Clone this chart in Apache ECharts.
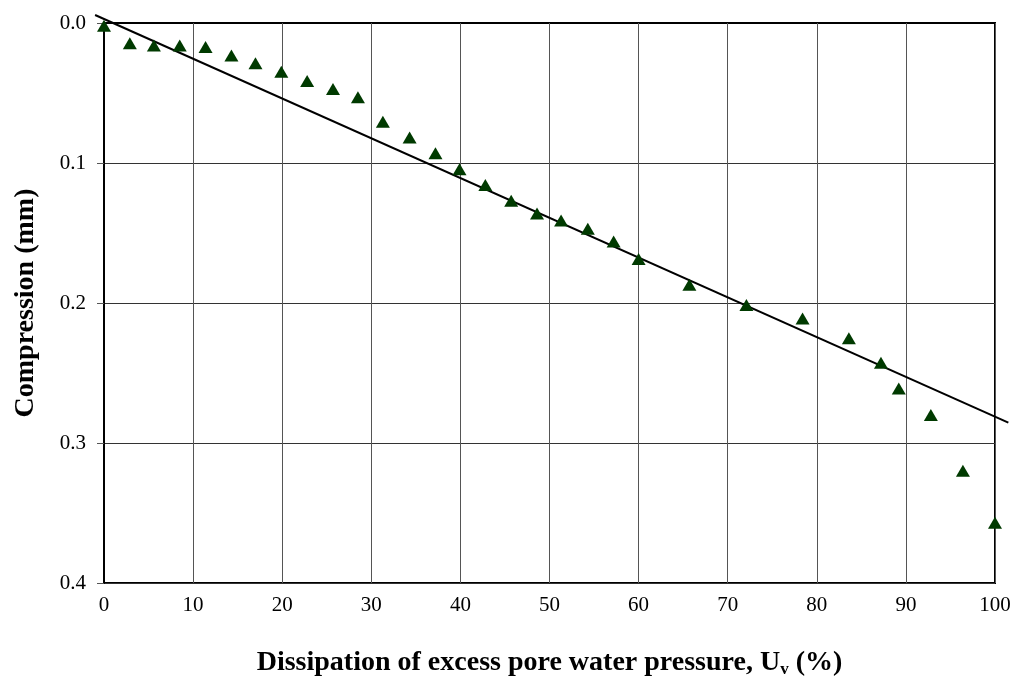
<!DOCTYPE html>
<html>
<head>
<meta charset="utf-8">
<script src="https://cdn.jsdelivr.net/npm/echarts@6/dist/echarts.min.js"></script>
<style>
  html, body { margin: 0; padding: 0; background: #fff; }
  #chart { width: 1016px; height: 690px; }
</style>
</head>
<body>
<div id="chart"></div>
<script>
// measured points: dissipation Uv (%) and compression (mm)
const uv = [0, 2.9, 5.6, 8.5, 11.4, 14.3, 17.0, 19.9, 22.8, 25.7, 28.5, 31.3, 34.3, 37.2, 39.9,
  42.8, 45.7, 48.6, 51.3, 54.3, 57.2, 60.0, 65.7, 72.1, 78.4, 83.6, 87.2, 89.2, 92.8, 96.4, 100];
const compression = [0.002, 0.0145, 0.016, 0.016, 0.0172, 0.0233, 0.0288, 0.0348, 0.0414, 0.0471, 0.0531,
  0.0705, 0.0817, 0.0931, 0.1045, 0.1157, 0.127, 0.136, 0.141, 0.147, 0.156, 0.1686,
  0.187, 0.2014, 0.211, 0.2252, 0.2426, 0.261, 0.280, 0.3198, 0.357];
// straight trend line, end points (runs a bit past the axes)
const trendUv = [-1.0, 101.5];
const trendComp = [-0.0057, 0.2855];

const xTicks = [0, 10, 20, 30, 40, 50, 60, 70, 80, 90, 100];
const yTicks = [0.0, 0.1, 0.2, 0.3, 0.4];

const chart = echarts.init(document.getElementById('chart'));

const serif = '"Liberation Serif", "DejaVu Serif", serif';

chart.setOption({
  animation: false,
  backgroundColor: '#fff',
  grid: {
    left: 104,
    right: 21,
    top: 23,
    bottom: 107,
    containLabel: false,
    outerBoundsMode: 'none',
    show: true,
    borderColor: '#000',
    borderWidth: 2,
    backgroundColor: 'transparent'
  },
  xAxis: {
    type: 'value',
    min: xTicks[0],
    max: xTicks[xTicks.length - 1],
    interval: 10,
    name: 'Dissipation of excess pore water pressure, U{sub|v} (%)',
    nameLocation: 'middle',
    nameGap: 64,
    nameTextStyle: {
      fontFamily: serif,
      fontWeight: 'bold',
      fontSize: 28,
      color: '#000',
      rich: {
        sub: {
          fontFamily: serif,
          fontWeight: 'bold',
          fontSize: 17,
          color: '#000',
          verticalAlign: 'bottom',
          padding: [14, 0, 0, 0]
        }
      }
    },
    axisLine: { show: true, lineStyle: { color: '#000', width: 2 } },
    axisTick: { show: true, inside: false, length: 8, lineStyle: { color: '#555', width: 1 } },
    axisLabel: { fontFamily: serif, fontSize: 21, color: '#000', margin: 12 },
    splitLine: { show: true, lineStyle: { color: '#555', width: 1 } }
  },
  yAxis: {
    type: 'value',
    inverse: true,
    min: yTicks[0],
    max: yTicks[yTicks.length - 1],
    interval: 0.1,
    name: 'Compression (mm)',
    nameLocation: 'middle',
    nameGap: 64,
    nameTextStyle: {
      fontFamily: serif,
      fontWeight: 'bold',
      fontSize: 28,
      color: '#000'
    },
    axisLine: { show: true, lineStyle: { color: '#000', width: 2 } },
    axisTick: { show: true, inside: false, length: 7, lineStyle: { color: '#555', width: 1 } },
    axisLabel: {
      fontFamily: serif,
      fontSize: 21,
      color: '#000',
      margin: 18,
      formatter: v => v.toFixed(1)
    },
    splitLine: { show: true, lineStyle: { color: '#333', width: 1 } }
  },
  series: [
    {
      // trend line drawn as custom so it can run past the plot edges
      type: 'custom',
      name: 'trend',
      clip: false,
      data: [[trendUv[0], trendComp[0], trendUv[1], trendComp[1]]],
      encode: { x: [0, 2], y: [1, 3] },
      renderItem: (params, api) => {
        const p0 = api.coord([api.value(0), api.value(1)]);
        const p1 = api.coord([api.value(2), api.value(3)]);
        return {
          type: 'line',
          shape: { x1: p0[0], y1: p0[1], x2: p1[0], y2: p1[1] },
          style: { stroke: '#000', lineWidth: 2 }
        };
      },
      z: 3
    },
    {
      type: 'scatter',
      name: 'measured',
      data: uv.map((u, i) => [u, compression[i]]),
      clip: false,
      symbol: 'triangle',
      symbolSize: [14, 12],
      itemStyle: { color: '#003a00', opacity: 1 },
      z: 4
    }
  ]
});
</script>
</body>
</html>
